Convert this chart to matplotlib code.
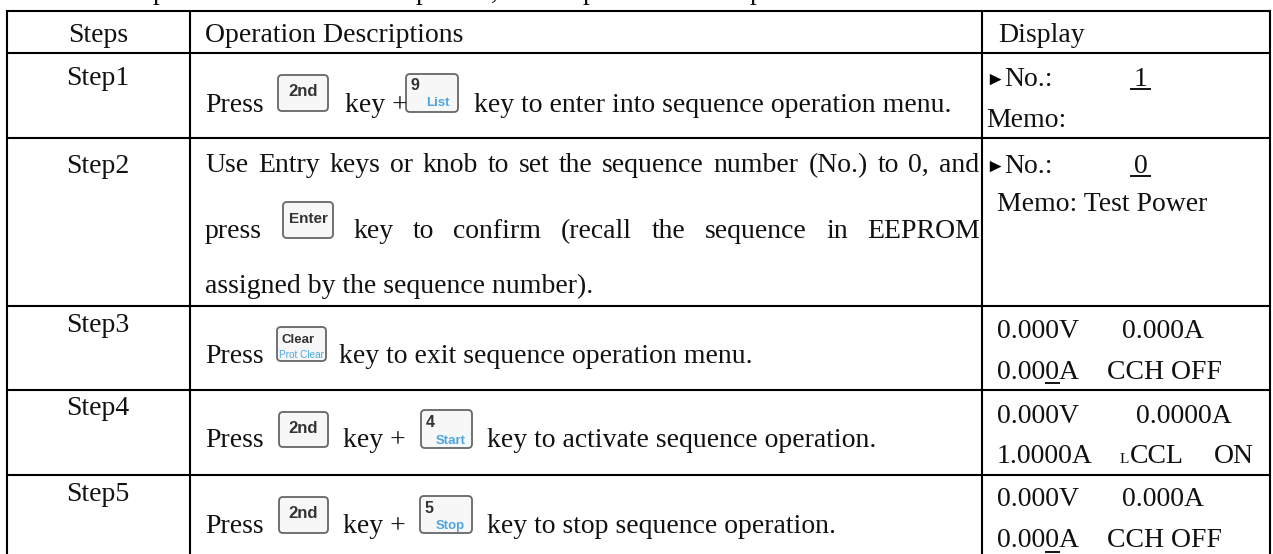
import matplotlib
matplotlib.use("Agg")
import matplotlib.pyplot as plt
from matplotlib.patches import FancyBboxPatch

SERIF = ['Liberation Serif', 'DejaVu Serif']
SANS = ['Liberation Sans', 'DejaVu Sans']
FS = 20
INK = '#111111'
BLUE = '#4da6e0'

# table rules (pixel coordinates of the reference)
h_rules = [11, 53, 137.5, 306, 389.5, 475]
v_rules = [7, 190, 982, 1270]

# clipped line above the table: only descenders are visible
top_glyphs = [('p', 160), ('p', 423), (',', 494), ('p', 590), ('p', 757)]

# left column and header
steps = ['Steps', 'Step1', 'Step2', 'Step3', 'Step4', 'Step5']
steps_base = [41.5, 85, 173, 332, 415, 501]

# plain text: string, x, baseline
plain = [
    ('Operation Descriptions', 205, 41.5),
    ('Display', 998, 41.5),
    ('Press', 205, 111.5), ('key +', 345, 111.5),
    ('key to enter into sequence operation menu.', 474, 111.5),
    ('press', 205, 238),
    ('assigned by the sequence number).', 205, 293),
    ('Press', 205, 363), ('key to exit sequence operation menu.', 339, 363),
    ('Press', 205, 447), ('key +', 343, 447),
    ('key to activate sequence operation.', 487, 447),
    ('Press', 205, 533), ('key +', 343, 533),
    ('key to stop sequence operation.', 487, 533),
    ('No.:', 1004, 86), ('1', 1134, 86), ('Memo:', 986, 127),
    ('No.:', 1004, 173), ('0', 1134, 173), ('Memo: Test Power', 997, 211),
    ('0.000V', 997, 338), ('0.000A', 1122, 338),
    ('0.000A', 997, 379), ('CCH OFF', 1107, 379),
    ('0.000V', 997, 423), ('0.0000A', 1136, 423),
    ('1.0000A', 997, 463), ('CCL', 1130, 463), ('ON', 1214, 463),
    ('0.000V', 997, 506), ('0.000A', 1122, 506),
    ('0.000A', 997, 547), ('CCH OFF', 1107, 547),
]

# justified lines: text, x start, x end, baseline
justified = [
    ('Use Entry keys or knob to set the sequence number (No.) to 0, and', 205, 979, 172),
    ('key to confirm (recall the sequence in EEPROM', 353, 980, 238),
]

# triangle markers and underlines
triangles = [(985, 86), (985, 173)]
underlines = [(1130, 1151, 89), (1130, 1151, 176), (1045, 1060, 383), (1045, 1060, 552)]

# keys: x0, x1, y0, y1, main label, sub label
keys = [
    (278, 328, 75, 111, '2nd', ''),
    (406, 458, 74, 112, '9', 'List'),
    (283, 333, 202, 238, 'Enter', ''),
    (277, 326, 327, 361, 'Clear', 'Prot Clear'),
    (279, 328, 412, 447, '2nd', ''),
    (421, 472, 410, 448, '4', 'Start'),
    (279, 328, 497, 533, '2nd', ''),
    (420, 472, 496, 533, '5', 'Stop'),
]

fig = plt.figure(figsize=(12.73, 5.54), dpi=100, facecolor='white')
ax = fig.add_axes([0, 0, 1, 1])
ax.set_xlim(0, 1273)
ax.set_ylim(554, 0)
ax.axis('off')


def T(x, y, s, **kw):
    kw.setdefault('family', SERIF)
    kw.setdefault('fontsize', FS)
    kw.setdefault('color', INK)
    kw.setdefault('va', 'baseline')
    return ax.text(x, y, s, **kw)


for y in h_rules:
    ax.plot([v_rules[0], v_rules[-1]], [y, y], color='black', lw=1.5, solid_capstyle='projecting')
for x in v_rules:
    ax.plot([x, x], [h_rules[0], 554], color='black', lw=1.5, solid_capstyle='projecting')

for s, x in top_glyphs:
    T(x, -1, s, ha='center')

for s, y in zip(steps, steps_base):
    T(98, y, s, ha='center')

for s, x, y in plain:
    T(x, y, s)
T(1120, 463, 'L', fontsize=11)

renderer = fig.canvas.get_renderer()
for s, x0, x1, y in justified:
    words = s.split()
    arts = [T(x0, y, w) for w in words]
    widths = [a.get_window_extent(renderer).width for a in arts]
    gap = (x1 - x0 - sum(widths)) / (len(words) - 1)
    pos = x0
    for a, w in zip(arts, widths):
        a.set_x(pos)
        pos += w + gap

for x, y in triangles:
    T(x, y - 1, '\u25ba', family=['Liberation Serif', 'DejaVu Sans'], fontsize=14, color='black')

for x0, x1, y in underlines:
    ax.plot([x0, x1], [y, y], color='black', lw=1.3, solid_capstyle='butt')

for x0, x1, y0, y1, main, sub in keys:
    ax.add_patch(FancyBboxPatch((x0 + 3, y0 + 3), x1 - x0 - 6, y1 - y0 - 6,
                                boxstyle='round,pad=3,rounding_size=4',
                                fc='#f7f7f7', ec='#666666', lw=1.3))
    xc = (x0 + x1) / 2
    yc = (y0 + y1) / 2
    if main == 'Clear':
        T(xc - 3, y0 + 16, main, family=SANS, weight='bold', fontsize=9.5, color='#333333', ha='center')
        T(xc, y0 + 31, sub, family=SANS, fontsize=7.2, color=BLUE, ha='center')
    elif sub == 'List':
        T(x0 + 9, y0 + 16, main, family=SANS, weight='bold', fontsize=11.5, color='#333333', ha='center')
        T(xc + 6, y1 - 6, sub, family=SANS, weight='bold', fontsize=9.5, color=BLUE, ha='center')
    elif sub:
        T(x0 + 9, y0 + 17, main, family=SANS, weight='bold', fontsize=11.5, color='#333333', ha='center')
        T(xc + 4, y1 - 4, sub, family=SANS, weight='bold', fontsize=9.5, color=BLUE, ha='center')
    else:
        size = 11 if main == 'Enter' else 12
        T(xc, yc - 1, main, family=SANS, weight='bold', fontsize=size, color='#333333', ha='center', va='center')

fig.savefig('out.png', dpi=100)
